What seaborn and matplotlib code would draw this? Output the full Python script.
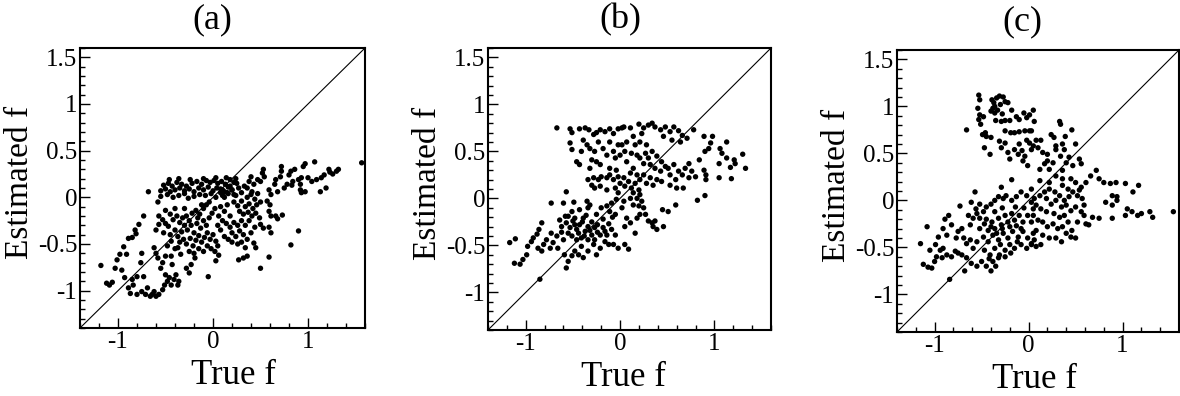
import matplotlib
matplotlib.use("Agg")
import matplotlib.pyplot as plt
from matplotlib.ticker import MultipleLocator, FixedLocator, FixedFormatter
import seaborn as sns

# ---------------- data ----------------
panel_titles = ["(a)", "(b)", "(c)"]
x_tick_vals = [-1, 0, 1]
x_tick_labels = ["-1", "0", "1"]
y_tick_vals = [-1, -0.5, 0, 0.5, 1, 1.5]
y_tick_labels = ["-1", "-0.5", "0", "0.5", "1", "1.5"]

a_true = [
    -1.18, -1.12, -1.09, -1.06, -1.03, -1.01, -0.98, -0.94, -0.91, -0.96,
    -0.89, -0.85, -0.82, -0.78, -0.81, -0.73, -0.75, -0.76, -0.89, -0.85,
    -0.84, -0.80, -0.87, -0.80, -0.75, -0.71, -0.69, -0.64, -0.62, -0.57,
    -0.53, -0.51, -0.48, -0.44, -0.41, -0.37, -0.50, -0.55, -0.58, -0.53,
    -0.44, -0.43, -0.39, -0.73, -0.28, -0.25, -0.23, -0.19, -0.05, -0.62,
    -0.60, -0.50, -0.37, -0.34, -0.68, -0.93, -0.66, -0.60, -0.46, -0.36,
    # upper band
    -0.52, -0.47, -0.43, -0.38, -0.33, -0.28, -0.22, -0.17, -0.12, -0.07,
    -0.03, 0.01, 0.05, 0.09, 0.13, 0.18, 0.22,
    -0.55, -0.50, -0.45, -0.40, -0.35, -0.30, -0.25, -0.20, -0.15, -0.10,
    -0.05, 0.00, 0.04, 0.08, 0.12, 0.16, 0.20,
    -0.55, -0.48, -0.42, -0.36, -0.30, -0.26, -0.20, -0.14, -0.08, -0.02,
    0.03, 0.10, 0.15, 0.22,
    -0.58, -0.46, -0.36, -0.24, -0.10, 0.03, 0.14, 0.24,
    # middle left
    -0.57, -0.53, -0.50, -0.57, -0.60, -0.52, -0.47, -0.42, -0.38, -0.35,
    -0.32, -0.28, -0.25, -0.22, -0.18, -0.14, -0.10, -0.07, -0.04, -0.45,
    -0.40, -0.37, -0.33, -0.30, -0.27, -0.23, -0.20, -0.17, -0.13, -0.10,
    -0.07, -0.04, -0.01, -0.35, -0.31, -0.28, -0.24, -0.21, -0.18, -0.15,
    -0.12, -0.09, -0.06, -0.03, 0.00, 0.03, -0.25, -0.20, -0.15, -0.10,
    -0.06, -0.02, 0.02, 0.05, 0.06, 0.03, -0.45, -0.40, -0.50, -0.30,
    -0.12, -0.16, -0.44, -0.48, -0.40,
    # right dense
    0.08, 0.12, 0.16, 0.20, 0.24, 0.27, 0.30, 0.33, 0.36, 0.40,
    0.44, 0.47, 0.22, 0.26, 0.30, 0.34, 0.38, 0.42, 0.46, 0.50,
    0.28, 0.32, 0.37, 0.41, 0.45, 0.49, 0.08, 0.12, 0.15, 0.18,
    0.10, 0.14, 0.18, 0.22, 0.26, 0.30, 0.20, 0.24, 0.28, 0.32,
    0.36, 0.16, 0.20, 0.12, 0.08, 0.05, 0.26, 0.30, 0.40, 0.44,
    0.34, 0.38, 0.06, 0.02, 0.10, 0.18, 0.25,
    # right arm
    1.565, 1.32, 1.30, 1.22, 1.23, 1.17, 1.14, 1.19, 1.13, 1.07,
    0.97, 0.95, 0.93, 0.90, 0.92, 0.92, 0.93, 0.97, 1.00, 1.04,
    1.09, 0.82, 0.80, 0.84, 0.83, 0.78, 0.72, 0.72, 0.71, 0.66,
    0.65, 0.68, 0.59, 0.61, 0.53, 0.52, 0.54, 0.50, 0.47, 0.43,
    0.40, 0.38, 0.36, 0.41, 0.57, 0.60, 0.59, 0.61, 0.66, 0.73,
    0.68, 0.50, 0.53, 0.59, 0.61, 0.90, 0.82, 0.59, 0.50, 0.36,
    0.32, 0.27, 0.45, 0.34, 0.43, 0.75, 0.86, 1.26,
]
a_est = [
    -0.73, -0.92, -0.94, -0.91, -0.76, -0.67, -0.61, -0.53, -0.61, -0.78,
    -0.44, -0.43, -0.35, -0.29, -0.39, -0.20, -0.60, -0.70, -0.97, -0.88,
    -0.94, -0.85, -1.03, -1.04, -1.01, -1.04, -0.97, -1.04, -1.01, -1.04,
    -0.99, -0.94, -0.90, -0.94, -0.88, -0.94, -0.83, -0.76, -0.65, -0.70,
    -0.63, -0.72, -0.83, -0.85, -0.76, -0.81, -0.72, -0.65, -0.85, -0.54,
    -0.60, -0.63, -0.54, -0.61, 0.06, -0.86, -1.06, -1.06, -0.86, -0.90,
    # upper band
    0.13, 0.15, 0.12, 0.16, 0.14, 0.12, 0.15, 0.17, 0.14, 0.18,
    0.16, 0.18, 0.15, 0.17, 0.14, 0.19, 0.16,
    0.07, 0.09, 0.06, 0.08, 0.10, 0.07, 0.09, 0.06, 0.10, 0.08,
    0.11, 0.07, 0.10, 0.09, 0.06, 0.11, 0.08,
    0.01, 0.03, 0.00, 0.02, 0.04, -0.01, 0.01, 0.03, 0.02, 0.04,
    0.00, 0.02, 0.05, 0.03,
    -0.05, 0.19, 0.20, 0.19, 0.20, 0.21, 0.21, 0.20,
    # middle left
    -0.20, -0.24, -0.28, -0.29, -0.35, -0.38, -0.31, -0.24, -0.20, -0.27,
    -0.22, -0.20, -0.25, -0.17, -0.14, -0.18, -0.12, -0.08, -0.05, -0.40,
    -0.35, -0.42, -0.37, -0.30, -0.35, -0.30, -0.38, -0.28, -0.33, -0.25,
    -0.30, -0.22, -0.17, -0.48, -0.45, -0.50, -0.44, -0.52, -0.46, -0.41,
    -0.48, -0.43, -0.38, -0.45, -0.40, -0.47, -0.58, -0.60, -0.55, -0.58,
    -0.52, -0.55, -0.58, -0.52, -0.62, -0.68, -0.18, -0.12, -0.14, -0.12,
    -0.08, -0.22, -0.47, -0.52, -0.55,
    # right dense
    0.05, 0.00, 0.04, 0.08, 0.02, 0.10, 0.05, 0.12, 0.00, 0.03,
    -0.02, 0.04, -0.05, -0.09, -0.04, -0.10, -0.07, -0.12, -0.08, -0.05,
    -0.15, -0.18, -0.16, -0.20, -0.17, -0.22, -0.10, -0.15, -0.08, -0.20,
    -0.25, -0.28, -0.32, -0.27, -0.30, -0.25, -0.38, -0.42, -0.36, -0.40,
    -0.45, -0.45, -0.48, -0.42, -0.35, -0.30, -0.50, -0.48, -0.38, -0.32,
    -0.30, -0.25, -0.20, -0.12, 0.08, 0.12, 0.15,
    # right arm
    0.37, 0.30, 0.28, 0.30, 0.27, 0.24, 0.21, 0.10, 0.06, 0.38,
    0.36, 0.33, 0.21, 0.19, 0.14, 0.08, 0.05, 0.06, 0.21, 0.17,
    0.19, 0.28, 0.24, 0.17, 0.13, 0.14, 0.33, 0.28, 0.22, 0.19,
    0.14, 0.06, 0.08, 0.03, 0.30, 0.26, 0.22, 0.17, 0.19, 0.14,
    0.22, 0.17, 0.10, 0.06, -0.04, -0.08, -0.15, -0.20, -0.20, -0.19,
    -0.23, -0.29, -0.33, -0.32, -0.38, -0.36, -0.51, -0.64, -0.76, -0.63,
    -0.65, -0.67, -0.54, -0.54, -0.49, 0.10, 0.30, 0.25,
]

b_true = [
    -0.67, -0.53, -0.51, -0.43, -0.37, -0.33, -0.28, -0.25, -0.21, -0.16,
    -0.11, -0.07, -0.02, 0.02,
    -0.53, -0.51, -0.39, -0.35, -0.41, -0.32, -0.27, -0.23, -0.18, -0.14,
    -0.11, -0.07, -0.02, -0.05, 0.00,
    -0.46, -0.43, -0.30, -0.25, -0.21, -0.32, -0.11, -0.04,
    -0.34, -0.30, -0.28, -0.23, -0.20, -0.14, -0.11, -0.07, -0.02, 0.00,
    -0.27, -0.21, -0.14, -0.05, -0.02,
    -0.57, -0.49, -0.60, -0.73,
    -0.35, -0.34, -0.32, -0.43, -0.51, -0.55, -0.48, -0.39, -0.25, -0.20,
    -0.14, -0.09, -0.04, -0.11, -0.05,
    -1.17, -1.11, -1.12, -1.06, -1.03, -0.99, -0.98, -0.94, -0.92, -0.88,
    -0.86, -0.83, -0.87, -0.81, -0.83, -0.78, -0.74, -0.73, -0.71, -0.67,
    -0.66, -0.62, -0.60, -0.59, -0.55, -0.57, -0.51, -0.48, -0.44, -0.41,
    -0.39, -0.34, -0.28, -0.25, -0.21, -0.16, -0.12, -0.07, -0.02, -0.85,
    -0.57, -0.53, -0.50, -0.46, -0.43, -0.37, -0.34, -0.30, -0.27, -0.21,
    -0.18, -0.14, -0.09, -0.05, -0.51, -0.46, -0.41, -0.34, -0.27, -0.55,
    -0.58, -0.64,
    -0.48, -0.40, -0.36, -0.30, -0.24, -0.18, -0.12, -0.08, -0.44, -0.38,
    -0.32, -0.24, -0.16, -0.62,
    0.04, 0.11, 0.20, 0.25, 0.30, 0.34, 0.37, 0.43, 0.48, 0.53,
    0.57, 0.62, 0.66, 0.71, 0.78, 0.23, 0.14, 0.46, 0.55, 0.64,
    0.89, 0.98, 0.96, 0.94, 0.90, 1.06, 1.13, 1.08, 1.13, 1.21,
    1.22, 1.30, 1.33, 1.17, 1.05, 1.18, 1.05, 0.91, 0.91, 0.84,
    0.89, 0.90, 0.82,
    0.73, 0.69, 0.76, 0.80, 0.73, 0.66, 0.62, 0.59, 0.53, 0.51,
    0.57, 0.60, 0.67, 0.53, 0.59, 0.51, 0.45, 0.37, 0.35, 0.46,
    0.39,
    0.21, 0.27, 0.30, 0.34, 0.39, 0.44, 0.25, 0.32, 0.37, 0.43,
    0.48, 0.14, 0.07, 0.11, 0.18, 0.25, 0.32, 0.39, 0.44, 0.04,
    0.09, 0.16, 0.21, 0.28, 0.35, 0.05, 0.12, 0.20, 0.14, 0.21,
    0.18, 0.23, 0.20, 0.25, 0.27, 0.30, 0.34, 0.21, 0.18, 0.07,
    0.11, 0.05, 0.05, 0.09, 0.16, 0.02, 0.07, 0.16, 0.21, 0.28,
    0.05, 0.12, 0.18, 0.04, 0.11, 0.14, 0.02,
]
b_est = [
    0.75, 0.74, 0.70, 0.74, 0.75, 0.73, 0.68, 0.70, 0.73, 0.71,
    0.74, 0.69, 0.74, 0.75,
    0.59, 0.52, 0.62, 0.57, 0.50, 0.53, 0.50, 0.60, 0.53, 0.46,
    0.60, 0.50, 0.57, 0.43, 0.46,
    0.39, 0.36, 0.41, 0.39, 0.36, 0.32, 0.32, 0.30,
    0.20, 0.14, 0.22, 0.20, 0.23, 0.22, 0.25, 0.20, 0.23, 0.16,
    0.11, 0.13, 0.09, 0.11, 0.06,
    0.07, -0.04, -0.05, -0.05,
    -0.03, -0.10, -0.07, -0.12, -0.14, -0.19, -0.21, -0.21, -0.17, -0.10,
    -0.08, -0.05, -0.01, -0.14, -0.17,
    -0.47, -0.43, -0.69, -0.70, -0.65, -0.60, -0.51, -0.46, -0.42, -0.38,
    -0.33, -0.26, -0.53, -0.49, -0.56, -0.44, -0.53, -0.37, -0.47, -0.40,
    -0.53, -0.30, -0.44, -0.60, -0.67, -0.74, -0.61, -0.56, -0.60, -0.51,
    -0.63, -0.56, -0.49, -0.60, -0.53, -0.46, -0.49, -0.49, -0.53, -0.86,
    -0.26, -0.31, -0.24, -0.33, -0.28, -0.35, -0.30, -0.39, -0.31, -0.39,
    -0.31, -0.39, -0.33, -0.39, -0.40, -0.44, -0.42, -0.44, -0.44, -0.37,
    -0.19, -0.23,
    -0.28, -0.25, -0.18, -0.25, -0.28, -0.22, -0.27, -0.20, -0.37, -0.40,
    -0.34, -0.36, -0.35, -0.36,
    0.76, 0.75, 0.79, 0.75, 0.78, 0.80, 0.76, 0.73, 0.76, 0.71,
    0.76, 0.72, 0.67, 0.64, 0.73, 0.69, 0.66, 0.66, 0.62, 0.60,
    0.66, 0.66, 0.59, 0.53, 0.50, 0.53, 0.60, 0.48, 0.43, 0.41,
    0.37, 0.47, 0.32, 0.33, 0.37, 0.21, 0.22, 0.25, 0.20, 0.41,
    0.30, 0.03, -0.02,
    0.37, 0.32, 0.29, 0.23, 0.22, 0.25, 0.29, 0.20, 0.25, 0.32,
    0.36, 0.11, 0.11, 0.14, -0.07, -0.14, -0.12, -0.24, -0.30, -0.30,
    -0.33,
    0.43, 0.48, 0.43, 0.50, 0.45, 0.39, 0.37, 0.36, 0.32, 0.29,
    0.34, 0.32, 0.39, 0.27, 0.25, 0.25, 0.22, 0.20, 0.18, 0.22,
    0.18, 0.16, 0.20, 0.16, 0.14, 0.13, 0.11, 0.09, 0.06, 0.04,
    0.00, -0.03, -0.08, -0.10, -0.17, -0.24, -0.26, -0.17, -0.21, -0.21,
    -0.26, -0.30, -0.49, -0.54, -0.37, 0.57, 0.60, 0.57, 0.60, 0.57,
    0.50, 0.48, 0.46, -0.03, 0.00, -0.07, -0.10,
]

c_true = [
    -0.53, -0.52, -0.54, -0.52, -0.53, -0.51, -0.48, -0.39, -0.37, -0.34,
    -0.31, -0.27, -0.25, -0.22, -0.38, -0.36, -0.33, -0.40, -0.29, -0.25,
    -0.18, -0.13, -0.10, -0.05, -0.02, 0.01,
    -0.66, -0.49, -0.45, -0.40, -0.47, -0.41, -0.31, -0.29, -0.25, -0.19,
    -0.15, -0.10, -0.04, 0.01, -0.25,
    -0.22, -0.20, -0.15, -0.11, -0.07, -0.04, -0.06, -0.01, 0.01, 0.03,
    -0.10, -0.02,
    -0.36, -0.30, -0.28, -0.20, -0.35, -0.46,
    -0.18, -0.29, -0.57, -0.61, -0.73, -0.85, -0.89, -0.91, -0.96, -1.08,
    -1.15, -1.12, -1.07, -1.03, -1.00, -0.98, -0.94, -0.91, -0.87, -0.82,
    -0.78, -0.75, -0.71, -0.68, -0.77, -0.75, -0.71, -0.69, -0.66, -0.62,
    -0.59, -0.55, -0.62, -0.59, -0.55, -0.52, -0.48, -0.45, -0.40, -0.36,
    -0.32, -0.27, -0.24, -0.18, -0.13, -0.08, -0.02,
    -0.52, -0.47, -0.43, -0.39, -0.36, -0.32, -0.29, -0.25, -0.22, -0.18,
    -0.15, -0.10, -0.06, -0.01, 0.03, -0.48, -0.43, -0.38, -0.32, -0.27,
    -0.22, -0.17, -0.11, -0.06, -0.01, 0.05, -0.47, -0.41, -0.36, -0.31,
    -0.25, -0.20, -0.15, -0.08, -0.02, 0.03, -0.50, -0.45, -0.38, -0.32,
    -0.25, -0.40, -0.55, -0.61, -0.66, -0.84, -0.56, -0.52, -0.64, -0.82,
    -0.87, -0.99, -1.05, -0.92,
    -0.45, -0.40, -0.34, -0.28, -0.20, -0.13, -0.08, -0.30, -0.19, -0.12,
    -0.36, -0.28, -0.14, -0.05, -0.42, -0.35,
    0.05, 0.06, 0.03, 0.08, 0.13, 0.05, 0.10, 0.15, 0.20, 0.24,
    0.27, 0.29, 0.34, 0.33, 0.39, 0.46, 0.36, 0.38, 0.43, 0.50,
    0.40, 0.20, 0.26, 0.17, 0.12, 0.22, 0.34, 0.54, 0.56, 0.47,
    0.36, 0.29,
    0.12, 0.22, 0.29, 0.36, 0.45, 0.50, 0.56, 0.61, 0.66, 0.72,
    0.75, 0.80, 0.87, 0.93, 1.03, 1.17, 1.11, 0.94, 0.89, 0.82,
    0.89, 0.94, 1.05, 1.10, 1.16, 1.20, 1.29, 1.32, 1.03, 1.54,
    0.89, 0.75, 0.68, 0.64, 0.61,
    0.36, 0.42, 0.47, 0.52, 0.57, 0.54, 0.43, 0.38, 0.33, 0.28,
    0.22, 0.17, 0.12, 0.06, 0.19, 0.24, 0.29, 0.35, 0.40, 0.45,
    0.50, 0.56, 0.59, 0.08, 0.13, 0.19, 0.27, 0.33, 0.38, 0.42,
    0.05, 0.10, 0.15, 0.20, 0.26, 0.31, 0.36, 0.40, 0.45, 0.08,
    0.15, 0.22, 0.29, 0.35, 0.06, 0.08, 0.03, 0.13, 0.50, 0.46,
    0.52, 0.59, 0.03, 0.03, 0.05,
]
c_est = [
    1.12, 1.07, 0.98, 0.91, 0.86, 0.81, 0.89, 1.07, 1.04, 1.09,
    1.11, 1.10, 1.05, 1.04, 0.98, 0.93, 0.96, 0.95, 0.84, 0.85,
    0.96, 0.89, 0.86, 0.93, 0.88, 0.91,
    0.75, 0.70, 0.68, 0.67, 0.56, 0.49, 0.63, 0.56, 0.61, 0.72,
    0.72, 0.73, 0.74, 0.74, 0.74,
    0.51, 0.44, 0.54, 0.49, 0.53, 0.47, 0.42, 0.37, 0.61, 0.54,
    0.60, 0.64,
    1.00, 1.02, 0.92, 0.85, 0.85, 0.72,
    0.22, 0.14, 0.09, -0.02, -0.06, -0.16, -0.20, -0.30, -0.39, -0.28,
    -0.46, -0.68, -0.71, -0.72, -0.65, -0.60, -0.53, -0.51, -0.58, -0.60,
    -0.54, -0.56, -0.58, -0.75, -0.40, -0.33, -0.30, -0.40, -0.46, -0.42,
    -0.51, -0.44, -0.26, -0.19, -0.14, -0.19, -0.12, -0.07, -0.04, 0.00,
    0.04, 0.02, 0.05, 0.00, 0.04, 0.09, 0.05,
    -0.30, -0.25, -0.32, -0.23, -0.30, -0.19, -0.26, -0.16, -0.23, -0.14,
    -0.21, -0.16, -0.23, -0.16, -0.23, -0.39, -0.44, -0.37, -0.42, -0.35,
    -0.40, -0.33, -0.39, -0.33, -0.40, -0.35, -0.53, -0.58, -0.51, -0.58,
    -0.53, -0.47, -0.51, -0.47, -0.51, -0.47, -0.65, -0.70, -0.65, -0.61,
    -0.60, -0.75, -0.70, -0.67, -0.61, -0.84, -0.09, -0.04, -0.16, -0.26,
    -0.37, -0.47, -0.53, -0.61,
    -0.20, -0.28, -0.35, -0.30, -0.28, -0.27, -0.30, -0.47, -0.56, -0.44,
    -0.12, -0.08, -0.07, -0.08, -0.62, -0.70,
    0.96, 0.84, 0.74, 0.64, 0.64, 0.58, 0.56, 0.51, 0.49, 0.70,
    0.67, 0.58, 0.81, 0.84, 0.68, 0.75, 0.60, 0.54, 0.46, 0.60,
    0.40, 0.42, 0.40, 0.39, 0.33, 0.33, 0.47, 0.44, 0.39, 0.37,
    0.32, 0.54,
    0.21, 0.19, 0.26, 0.23, 0.23, 0.19, 0.14, 0.19, 0.26, 0.32,
    0.23, 0.19, 0.18, 0.19, 0.18, 0.16, 0.09, 0.04, 0.05, -0.02,
    -0.05, 0.00, -0.09, -0.12, -0.16, -0.14, -0.12, -0.18, -0.16, -0.12,
    -0.19, -0.19, -0.18, -0.26, -0.25,
    0.16, 0.12, 0.09, 0.05, 0.02, 0.11, 0.04, 0.00, 0.05, 0.09,
    0.12, 0.09, 0.05, 0.02, 0.02, -0.04, 0.00, -0.07, -0.05, -0.11,
    -0.07, -0.12, -0.05, -0.05, -0.09, -0.12, -0.14, -0.18, -0.16, -0.23,
    -0.16, -0.21, -0.23, -0.28, -0.25, -0.30, -0.28, -0.35, -0.39, -0.32,
    -0.37, -0.40, -0.40, -0.44, -0.42, -0.49, -0.46, -0.47, -0.40, -0.32,
    -0.23, -0.16, 0.12, -0.02, -0.09,
]

# ---------------- layout ----------------
W, H = 1180, 396
axes_px = [  # left, top, right, bottom in pixels
    (80, 48, 365, 328),
    (488, 48, 771, 330),
    (897, 50, 1179, 332),
]
title_x = [0.465, 0.468, 0.443]
xlabel_x = [0.54, 0.477, 0.486]

sns.set_style("white")
plt.rcParams["font.family"] = ["Liberation Serif", "DejaVu Serif"]
plt.rcParams["axes.unicode_minus"] = False
plt.rcParams["text.color"] = "black"
plt.rcParams["axes.labelcolor"] = "black"
plt.rcParams["xtick.color"] = "black"
plt.rcParams["ytick.color"] = "black"

fig = plt.figure(figsize=(W / 100, H / 100), dpi=100)

datasets = [(a_true, a_est), (b_true, b_est), (c_true, c_est)]
for i, (xs, ys) in enumerate(datasets):
    l, t, r, b = axes_px[i]
    ax = fig.add_axes([l / W, (H - b) / H, (r - l) / W, (b - t) / H])
    sns.scatterplot(x=xs, y=ys, ax=ax, color="black", s=15, linewidth=0,
                    edgecolor="none", legend=False, zorder=3)
    ax.axline((0, 0), slope=1, color="black", lw=0.8, zorder=2)
    ax.set_xlim(-1.4, 1.6)
    ax.set_ylim(-1.4, 1.6)
    ax.xaxis.set_major_locator(FixedLocator(x_tick_vals))
    ax.xaxis.set_major_formatter(FixedFormatter(x_tick_labels))
    ax.yaxis.set_major_locator(FixedLocator(y_tick_vals))
    ax.yaxis.set_major_formatter(FixedFormatter(y_tick_labels))
    ax.xaxis.set_minor_locator(MultipleLocator(0.2))
    ax.yaxis.set_minor_locator(MultipleLocator(0.1))
    ax.tick_params(which="both", direction="in", top=False, right=False,
                   bottom=True, left=True, color="black", width=1.0)
    ax.tick_params(which="major", length=7, labelsize=18, pad=2,
                   labelcolor="black")
    ax.tick_params(which="minor", length=3.5)
    for sp in ax.spines.values():
        sp.set_visible(True)
        sp.set_color("black")
        sp.set_linewidth(1.5)
    ax.set_title(panel_titles[i], fontsize=26, x=title_x[i], pad=14,
                 color="black")
    ax.set_xlabel("True f", fontsize=25, color="black")
    ax.set_ylabel("Estimated f", fontsize=24, color="black")
    ax.xaxis.set_label_coords(xlabel_x[i], -0.11)
    ax.yaxis.set_label_coords(-0.158, 0.52)

fig.savefig("out.png", dpi=100, facecolor="white")
